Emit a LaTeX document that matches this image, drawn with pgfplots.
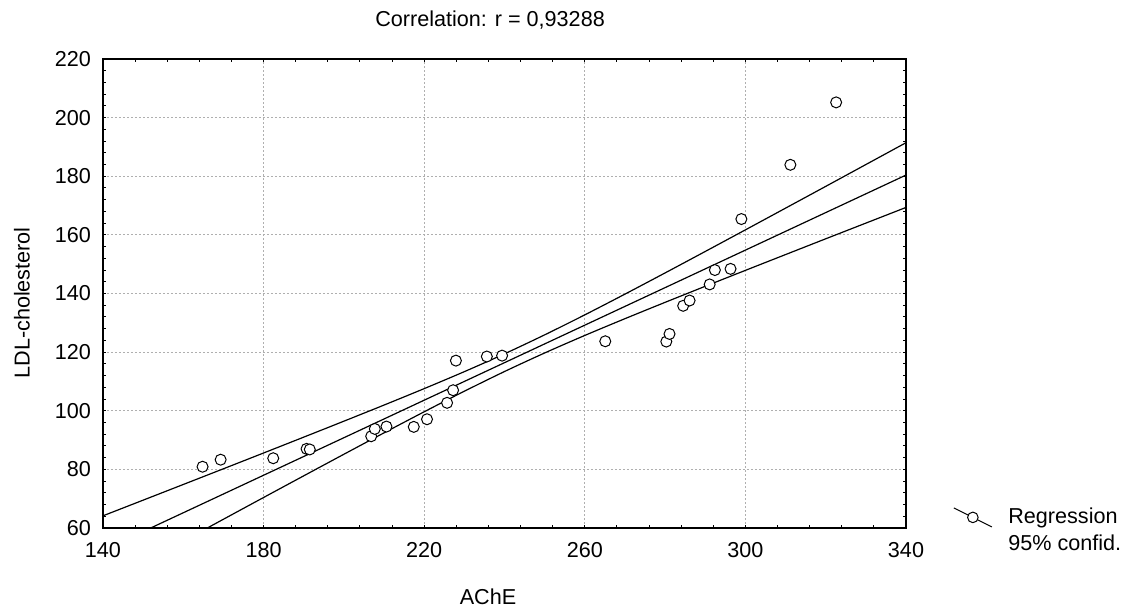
\documentclass[border=0pt]{standalone}
\usepackage{fontspec}
\setmainfont{Liberation Sans}
\usepackage{pgfplots}
\pgfplotsset{compat=1.18}
\definecolor{gridgray}{RGB}{175,175,175}
\begin{document}
\begin{tikzpicture}[font=\fontsize{10.8bp}{13bp}\selectfont]
\path[use as bounding box] (-51.5bp,-39.5bp) rectangle (512.5bp,264bp);
\begin{axis}[
  at={(0,0)}, anchor=south west,
  width=401.5bp, height=234.5bp, scale only axis,
  xmin=140, xmax=340, ymin=60, ymax=220,
  xtick={140,180,...,340}, ytick={60,80,...,220},
  minor x tick num=4, minor y tick num=4,
  tick align=inside,
  major tick length=1.5bp, minor tick length=1.5bp,
  every tick/.style={black, line width=0.5bp},
  axis line style={line width=0.6bp},
  grid=major,
  major grid style={gridgray, line width=0.45bp, dash pattern=on 1bp off 1bp},
  /pgf/number format/assume math mode=true,
  /pgf/number format/1000 sep={},
  tick label style={font=\fontsize{10.8bp}{13bp}\selectfont},
  xticklabel style={yshift=-3.5bp},
  yticklabel style={xshift=-2.5bp},
  every axis title shift=0pt,
  title={Correlation: r = 0,93288},
  title style={at={(axis description cs:0.482,1.083)}, anchor=center, inner sep=0pt},
  xlabel={AChE},
  xlabel style={at={(axis description cs:0.4795,-0.147)}, anchor=center, inner sep=0pt},
  ylabel={LDL-cholesterol},
  ylabel style={at={(axis description cs:-0.1009,0.48)}, anchor=center, rotate=0, inner sep=0pt},
  legend style={at={(axis description cs:1.0585,0.0448)}, anchor=north west,
    draw=none, fill=none, inner sep=0pt, row sep=3.8bp, column sep=8bp,
    nodes={inner sep=0pt, font=\fontsize{10.8bp}{13bp}\selectfont}},
  legend cell align=left,
  clip=true,
]
\addlegendimage{legend image code/.code={
   \draw[black, line width=0.5bp] (0bp,4.75bp) -- (19bp,-4.75bp);
   \draw[black, line width=0.5bp, fill=white] (9.5bp,0bp) circle (2.65bp);}}
\addlegendentry{Regression}
\addlegendimage{empty legend}
\addlegendentry{95\% confid.}

% regression line
\addplot[black, line width=0.6bp, forget plot] coordinates {(140,52.4) (340,180.4)};
% upper 95% band
\addplot[black, line width=0.6bp, smooth, forget plot] coordinates {
(140,64.16) (150,69.50) (160,74.85) (170,80.21) (180,85.59) (190,91.00)
(200,96.44) (210,101.94) (220,107.55) (230,113.34) (240,119.42) (250,125.89)
(260,132.71) (270,139.79) (280,147.02) (290,154.34) (300,161.71) (310,169.12)
(320,176.54) (330,183.99) (340,191.44)};
% lower 95% band
\addplot[black, line width=0.6bp, smooth, forget plot] coordinates {
(140,40.64) (150,48.10) (160,55.55) (170,62.99) (180,70.41) (190,77.80)
(200,85.16) (210,92.46) (220,99.65) (230,106.66) (240,113.38) (250,119.71)
(260,125.69) (270,131.41) (280,136.98) (290,142.46) (300,147.89) (310,153.28)
(320,158.66) (330,164.01) (340,169.36)};
% data
\addplot[only marks, mark=*, mark size=2.75bp, mark options={draw=black, fill=white, line width=0.5bp}, forget plot] coordinates {
(164.8,80.9) (169.3,83.3) (182.4,83.8) (190.7,87.0) (191.5,86.8)
(206.8,91.3) (207.7,93.8) (210.6,94.6) (217.4,94.5) (220.7,97.1)
(225.7,102.7) (227.2,107.0) (227.9,117.1) (235.6,118.5) (239.4,118.8)
(265.1,123.7) (280.3,123.6) (281.1,126.2) (284.5,135.8) (286.1,137.6)
(291.1,143.1) (292.4,148.0) (296.3,148.4) (299.0,165.4) (311.2,183.9)
(322.6,205.2)};
\end{axis}
\end{tikzpicture}
\end{document}
